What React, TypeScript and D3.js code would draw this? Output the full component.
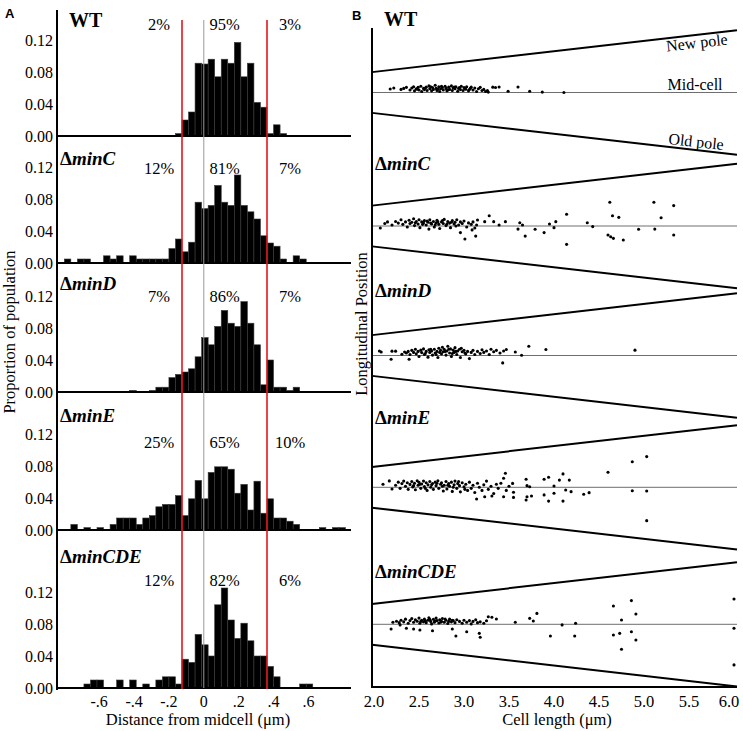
import React from 'react';
import * as d3 from 'd3';

// ---------- DATA ----------
const strainNames = ['WT', 'minC', 'minD', 'minE', 'minCDE'];
const pctLeft = ['2%', '12%', '7%', '25%', '12%'];
const pctMid = ['95%', '81%', '86%', '65%', '82%'];
const pctRight = ['3%', '7%', '7%', '10%', '6%'];

const binWidth = 0.0375;
const leftCut = -0.125;
const rightCut = 0.3625;
const histStart = [-1, -18, -8, -17, -15];
const histWT = [0.003, 0.02, 0.03, 0.091, 0.09, 0.096, 0.074, 0.096, 0.091, 0.117, 0.074, 0.091, 0.042, 0.036, 0.003, 0.014, 0.003];
const histMinC = [0.005, 0, 0.005, 0.005, 0, 0, 0.009, 0.005, 0.009, 0, 0.009, 0.005, 0.005, 0.005, 0.005, 0.005, 0.018, 0.03, 0.014, 0.026, 0.076, 0.068, 0.072, 0.097, 0.076, 0.072, 0.11, 0.072, 0.064, 0.055, 0.034, 0.025, 0.021, 0.005, 0, 0.009, 0.005];
const histMinD = [0.002, 0, 0, 0.002, 0.006, 0.006, 0.018, 0.022, 0.025, 0.029, 0.044, 0.068, 0.059, 0.082, 0.102, 0.086, 0.082, 0.113, 0.086, 0.059, 0.009, 0.04, 0.006, 0.006, 0.002, 0.006];
const histMinE = [0.007, 0, 0.003, 0, 0.003, 0, 0.007, 0.015, 0.015, 0.015, 0.007, 0.015, 0.018, 0.029, 0.032, 0.032, 0.043, 0.018, 0.039, 0.062, 0.039, 0.072, 0.079, 0.079, 0.076, 0.046, 0.057, 0.025, 0.061, 0.021, 0.039, 0.015, 0.015, 0.011, 0.007, 0, 0, 0, 0.003, 0, 0.003, 0.003];
const histMinCDE = [0.005, 0.01, 0.01, 0, 0, 0.01, 0, 0.01, 0, 0.005, 0, 0.01, 0.014, 0.014, 0.005, 0.036, 0.032, 0.067, 0.054, 0.04, 0.104, 0.125, 0.085, 0.062, 0.081, 0.059, 0.04, 0.04, 0.027, 0.014, 0, 0, 0, 0.005, 0.005];
const histograms = [histWT, histMinC, histMinD, histMinE, histMinCDE];

const yTicksA = [0, 0.04, 0.08, 0.12];
const xTicksA = [-0.6, -0.4, -0.2, 0, 0.2, 0.4, 0.6];
const xTickLabelsA = ['-.6', '-.4', '-.2', '0', '.2', '.4', '.6'];
const xTicksB = [2.0, 2.5, 3.0, 3.5, 4.0, 4.5, 5.0, 5.5, 6.0];

// [cell length (µm), longitudinal position from mid-cell (µm)]
const dotsWT: [number, number][] = [
  [2.18, 0.17], [2.22, 0.22], [2.30, 0.15], [2.33, 0.2], [2.36, 0.25],
  [2.40, 0.12], [2.42, 0.22], [2.44, 0.28], [2.45, 0.08], [2.47, 0.18], [2.49, 0.25], [2.50, 0.12], [2.52, 0.3], [2.53, 0.05], [2.55, 0.2],
  [2.56, 0.14], [2.58, 0.26], [2.59, 0.1], [2.61, 0.32], [2.62, 0.18], [2.64, 0.08], [2.65, 0.24], [2.66, 0.15], [2.68, 0.35], [2.69, 0.2],
  [2.70, 0.1], [2.72, 0.28], [2.73, 0.05], [2.74, 0.18], [2.76, 0.24], [2.77, 0.12], [2.79, 0.3], [2.80, 0.2], [2.81, 0.08], [2.83, 0.26],
  [2.84, 0.15], [2.86, 0.32], [2.87, 0.1], [2.88, 0.22], [2.90, 0.18], [2.91, 0.28], [2.93, 0.06], [2.94, 0.2], [2.96, 0.14], [2.97, 0.3],
  [2.99, 0.1], [3.00, 0.24], [3.02, 0.16], [3.03, 0.28], [3.05, 0.08], [3.07, 0.2], [3.08, 0.26], [3.10, 0.12], [3.12, 0.22], [3.14, 0.05],
  [3.16, 0.18], [3.18, 0.25], [3.20, 0.1], [3.22, 0.15], [3.24, 0.05], [3.26, 0.1], [3.27, 0.02],
  [2.48, 0.16], [2.57, 0.22], [2.63, 0.28], [2.71, 0.16], [2.75, 0.3], [2.82, 0.12], [2.89, 0.26], [2.95, 0.24], [3.01, 0.2], [3.06, 0.14],
  [3.32, 0.26], [3.35, 0.24], [3.39, 0.27], [3.49, 0.06], [3.6, 0.27], [3.73, 0.06], [3.87, 0.02], [4.11, 0.0],
];
const dotsMinC: [number, number][] = [
  [2.07, -0.1], [2.12, 0.12], [2.15, 0.2], [2.2, 0.05], [2.24, 0.22], [2.27, 0.14], [2.3, 0.3], [2.32, 0.08], [2.35, 0.2], [2.37, -0.05],
  [2.39, 0.28], [2.4, 0.12], [2.42, 0.18], [2.44, 0.35], [2.45, 0.02], [2.47, 0.22], [2.49, 0.1], [2.5, 0.3], [2.51, -0.08], [2.53, 0.2],
  [2.55, 0.14], [2.56, 0.26], [2.58, 0.05], [2.6, 0.18], [2.61, -0.15], [2.62, 0.3], [2.64, 0.1], [2.66, 0.22], [2.67, -0.05], [2.69, 0.16],
  [2.7, 0.28], [2.72, 0.08], [2.73, -0.12], [2.75, 0.2], [2.77, 0.12], [2.78, 0.32], [2.8, 0.02], [2.82, 0.22], [2.84, 0.14], [2.85, -0.08],
  [2.87, 0.26], [2.89, 0.1], [2.9, 0.18], [2.92, 0.3], [2.94, 0.05], [2.96, 0.2], [2.98, 0.12], [3.0, 0.24], [3.03, -0.05], [3.05, 0.15],
  [3.08, 0.08], [3.1, 0.2], [3.12, -0.1], [3.14, 0.05],
  [2.46, 0.16], [2.54, 0.08], [2.59, 0.24], [2.63, 0.14], [2.68, 0.06], [2.71, 0.2], [2.76, 0.26], [2.81, 0.1], [2.86, 0.18], [2.91, 0.0],
  [2.96, -0.32], [3.01, -0.63], [3.09, -0.19], [3.13, -0.49], [3.15, 0.29], [3.23, 0.21], [3.28, 0.5], [3.33, 0.21], [3.39, 0.05], [3.46, 0.21],
  [3.62, 0.16], [3.65, 0.05], [3.6, -0.15], [3.68, -0.49], [3.79, -0.16], [3.89, -0.32], [3.95, 0.1], [4.0, -0.08], [4.02, 0.21], [4.14, 0.57],
  [4.14, -0.89], [4.37, 0.16], [4.43, -0.03], [4.62, 1.15], [4.65, 0.5], [4.72, 0.42], [4.6, -0.44], [4.63, -0.52], [4.66, -0.6], [4.77, -0.68],
  [4.94, -0.16], [5.11, 1.15], [5.12, -0.15], [5.19, 0.4], [5.33, 0.99], [5.33, -0.44],
];
const dotsMinD: [number, number][] = [
  [2.06, 0.22], [2.08, 0.17], [2.2, 0.21], [2.19, -0.18], [2.24, 0.21], [2.31, 0.06], [2.34, 0.17], [2.39, -0.18],
  [2.36, 0.12], [2.38, 0.2], [2.4, 0.05], [2.42, 0.25], [2.44, 0.15], [2.46, 0.3], [2.47, 0.08], [2.49, 0.2], [2.5, -0.05], [2.52, 0.26],
  [2.53, 0.14], [2.55, 0.32], [2.56, 0.05], [2.58, 0.2], [2.6, -0.08], [2.61, 0.28], [2.62, 0.15], [2.64, 0.22], [2.65, 0.02], [2.67, 0.3],
  [2.68, 0.12], [2.7, 0.2], [2.71, -0.1], [2.72, 0.35], [2.74, 0.25], [2.75, 0.08], [2.76, 0.4], [2.77, 0.18], [2.78, 0.3], [2.8, 0.02],
  [2.81, 0.22], [2.82, 0.45], [2.84, 0.12], [2.85, 0.32], [2.86, -0.05], [2.88, 0.26], [2.89, 0.15], [2.9, 0.38], [2.92, 0.05], [2.93, 0.22],
  [2.95, 0.3], [2.96, -0.1], [2.98, 0.18], [3.0, 0.25], [3.02, 0.08], [3.04, 0.2], [3.06, -0.15], [3.08, 0.15], [3.1, 0.25], [3.12, 0.05],
  [3.15, 0.2], [3.18, 0.1], [3.2, 0.28], [3.22, 0.15], [3.25, 0.22], [3.28, 0.05], [3.3, 0.3], [3.33, 0.18], [3.36, 0.25], [3.4, 0.12],
  [2.57, 0.1], [2.63, 0.3], [2.69, 0.05], [2.73, 0.15], [2.79, 0.2], [2.83, 0.3], [2.87, 0.1], [2.91, 0.2], [2.97, 0.35], [3.01, 0.12],
  [3.43, -0.36], [3.44, 0.22], [3.47, 0.29], [3.57, 0.17], [3.64, 0.01], [3.72, 0.45], [3.91, 0.29], [4.9, 0.26],
];
const dotsMinE: [number, number][] = [
  [2.1, 0.15], [2.17, 0.31], [2.2, -0.08],
  [2.24, 0.1], [2.27, 0.25], [2.29, -0.05], [2.31, 0.18], [2.33, 0.3], [2.35, 0.05], [2.37, 0.22], [2.38, -0.1], [2.4, 0.14], [2.42, 0.28],
  [2.43, 0.02], [2.45, 0.2], [2.46, -0.12], [2.48, 0.32], [2.49, 0.1], [2.5, 0.24], [2.52, -0.05], [2.53, 0.16], [2.55, 0.3], [2.56, 0.04],
  [2.58, 0.22], [2.59, -0.15], [2.6, 0.12], [2.62, 0.28], [2.63, 0.0], [2.65, 0.18], [2.66, -0.1], [2.68, 0.25], [2.69, 0.08], [2.71, 0.32],
  [2.72, -0.05], [2.74, 0.15], [2.75, 0.22], [2.77, -0.18], [2.78, 0.1], [2.8, 0.28], [2.81, -0.08], [2.83, 0.18], [2.84, 0.05], [2.86, 0.25],
  [2.87, -0.2], [2.89, 0.12], [2.9, 0.3], [2.92, -0.05], [2.93, 0.18], [2.95, 0.08], [2.96, -0.22], [2.98, 0.22], [3.0, 0.02], [3.02, 0.15],
  [3.04, -0.15], [3.06, 0.25], [3.08, -0.05], [3.1, 0.1], [3.12, -0.25], [3.15, 0.2], [3.17, 0.0], [3.2, -0.15], [3.22, 0.12], [3.25, 0.3],
  [3.27, -0.1], [3.3, 0.05], [3.33, -0.3], [3.36, 0.15], [3.38, -0.05], [3.41, 0.2], [3.47, -0.15], [3.5, 0.05],
  [2.44, 0.08], [2.51, 0.15], [2.57, -0.05], [2.64, 0.12], [2.7, 0.2], [2.76, 0.05], [2.82, 0.1], [2.88, 0.0], [2.94, 0.28], [3.01, -0.1],
  [3.14, -0.57], [3.23, -0.46], [3.31, -0.42], [3.44, -0.46], [3.46, 0.68], [3.44, 0.44], [3.54, 0.19], [3.55, -0.24], [3.55, -0.49],
  [3.69, 0.39], [3.7, 0.08], [3.73, 0.03], [3.69, -0.62], [3.7, -0.46], [3.75, -0.42], [3.89, 0.39], [3.94, 0.49], [3.89, -0.37], [3.94, -0.67],
  [4.0, 0.06], [4.0, -0.29], [4.06, 0.35], [4.1, 0.65], [4.17, 0.35], [4.13, -0.13], [4.19, -0.21], [4.1, -0.67], [4.33, -0.34], [4.39, -0.26],
  [4.6, 0.73], [4.87, 1.24], [5.03, 1.49], [4.87, -0.17], [5.03, -0.18], [5.03, -1.62],
];
const dotsMinCDE: [number, number][] = [
  [2.19, -0.23], [2.21, 0.1], [2.29, -0.03], [2.36, -0.19], [2.44, -0.23], [2.51, -0.28], [2.65, -0.31], [2.87, -0.23], [2.91, -0.57],
  [3.03, -0.36], [3.17, -0.44], [3.18, -0.63], [3.25, 0.17], [3.31, 0.34], [3.36, 0.26], [3.27, 0.37],
  [2.25, 0.15], [2.28, 0.08], [2.3, 0.2], [2.33, 0.12], [2.35, 0.25], [2.38, 0.05], [2.4, 0.18], [2.42, 0.28], [2.44, 0.1], [2.46, 0.22],
  [2.48, 0.15], [2.5, 0.3], [2.51, 0.05], [2.53, 0.2], [2.55, 0.12], [2.56, 0.26], [2.58, 0.08], [2.6, 0.2], [2.61, 0.32], [2.63, 0.14],
  [2.64, 0.02], [2.66, 0.24], [2.67, 0.1], [2.69, 0.3], [2.7, 0.18], [2.72, 0.06], [2.73, 0.22], [2.75, 0.14], [2.76, 0.28], [2.78, 0.1],
  [2.8, 0.2], [2.82, 0.04], [2.84, 0.25], [2.86, 0.12], [2.88, 0.18], [2.9, 0.08], [2.92, 0.22], [2.95, 0.14], [2.98, 0.05], [3.0, 0.2],
  [3.03, 0.1], [3.06, 0.18], [3.08, 0.02], [3.1, 0.14], [3.13, 0.22], [3.15, 0.08], [3.18, 0.12], [3.22, 0.05],
  [2.52, 0.14], [2.57, 0.18], [2.62, 0.24], [2.68, 0.16], [2.74, 0.1], [2.79, 0.26], [2.83, 0.14], [2.87, 0.2],
  [3.57, 0.1], [3.73, 0.29], [3.77, 0.16], [3.81, 0.53], [3.96, -0.57], [4.09, -0.03], [4.24, 0.05], [4.23, -0.57],
  [4.66, 0.89], [4.86, 1.15], [4.75, 0.21], [4.91, 0.5], [4.66, -0.52], [4.73, -0.44], [4.86, -0.36], [4.91, -0.76], [4.75, -1.21],
  [6.0, 1.23], [6.0, -0.19], [6.0, -1.97],
];
const dotSets = [dotsWT, dotsMinC, dotsMinD, dotsMinE, dotsMinCDE];

// ---------- LAYOUT ----------
const W = 743;
const H = 731;
const serif = "'Liberation Serif', 'Times New Roman', serif";
const sans = "'Liberation Sans', Arial, sans-serif";

const aAxisX = 57;
const aRight = 351;
const aBase = [136, 263, 392, 530, 688];
const aNameY = [27, 165, 290, 422, 563];
const aPctY = [30, 174, 302, 448, 586];

const bAxisX = 372;
const bRight = 737;
const bBottom = 687;
const bMid = [92.5, 226, 355.5, 487.3, 624.3];
const bNameY = [26, 170, 297, 424, 578];
const posPxPerUm = 20.6;

function StrainName({ x, y, idx }: { x: number; y: number; idx: number }) {
  const n = strainNames[idx];
  if (n === 'WT') {
    return (
      <text x={x + 9} y={y} fontFamily={serif} fontWeight="bold" fontSize={20}>WT</text>
    );
  }
  return (
    <text x={x} y={y} fontFamily={serif} fontWeight="bold" fontSize={19}>
      <tspan>Δ</tspan>
      <tspan fontStyle="italic">{n}</tspan>
    </text>
  );
}

export default function App() {
  const xA = d3.scaleLinear().domain([leftCut, rightCut]).range([182, 267]);
  const xB = d3.scaleLinear().domain([2, 6]).range([374, 734]);

  return (
    <div style={{ position: 'absolute', left: 0, top: 0 }}>
      <svg width={W} height={H} viewBox={`0 0 ${W} ${H}`} style={{ display: 'block', background: '#fff' }}>
        <rect x={0} y={0} width={W} height={H} fill="#fff" />
        {/* ---------- Panel A ---------- */}
        <text x={5} y={18} fontFamily={sans} fontWeight="bold" fontSize={13}>A</text>
        {histograms.map((vals, i) => {
          const base = aBase[i];
          const yS = d3.scaleLinear().domain([0, 0.12]).range([base, base - 96]);
          return (
            <g key={'h' + i}>
              {vals.map((v, j) => {
                if (v <= 0) return null;
                const b = histStart[i] + j;
                const x0 = xA(leftCut + b * binWidth);
                const x1 = xA(leftCut + (b + 1) * binWidth);
                return (
                  <rect key={j} x={x0} y={yS(v)} width={x1 - x0} height={base - yS(v)}
                    fill="#000" stroke="#3a3a3a" strokeWidth={0.6} />
                );
              })}
              <line x1={aAxisX} x2={aRight} y1={base} y2={base} stroke="#000" strokeWidth={2} />
              {yTicksA.map((t) => (
                <text key={t} x={53} y={yS(t)} dy="0.36em" textAnchor="end" fontFamily={serif} fontSize={16}>
                  {t.toFixed(2)}
                </text>
              ))}
              <StrainName x={60} y={aNameY[i]} idx={i} />
              <text x={xA(leftCut) - 23} y={aPctY[i]} textAnchor="middle" fontFamily={serif} fontSize={16.5}>{pctLeft[i]}</text>
              <text x={xA(0.12)} y={aPctY[i]} textAnchor="middle" fontFamily={serif} fontSize={16.5}>{pctMid[i]}</text>
              <text x={xA(rightCut) + 23} y={aPctY[i]} textAnchor="middle" fontFamily={serif} fontSize={16.5}>{pctRight[i]}</text>
            </g>
          );
        })}
        <line x1={xA(0)} x2={xA(0)} y1={20} y2={688} stroke="#9a9a9a" strokeWidth={1} />
        <line x1={xA(leftCut)} x2={xA(leftCut)} y1={20} y2={689} stroke="#e8141c" strokeWidth={1.6} />
        <line x1={xA(rightCut)} x2={xA(rightCut)} y1={20} y2={689} stroke="#e8141c" strokeWidth={1.6} />
        <line x1={aAxisX} x2={aAxisX} y1={10} y2={690} stroke="#000" strokeWidth={2} />
        {xTicksA.map((t, i) => (
          <text key={t} x={xA(t)} y={707} textAnchor="middle" fontFamily={serif} fontSize={16}>{xTickLabelsA[i]}</text>
        ))}
        <text x={198} y={725} textAnchor="middle" fontFamily={serif} fontSize={16.5}>Distance from midcell (μm)</text>
        <text transform="translate(15,332) rotate(-90)" textAnchor="middle" fontFamily={serif} fontSize={16.5}>Proportion of population</text>

        {/* ---------- Panel B ---------- */}
        <text x={352} y={20} fontFamily={sans} fontWeight="bold" fontSize={13}>B</text>
        {dotSets.map((dots, i) => {
          const mid = bMid[i];
          const yP = d3.scaleLinear().domain([-1, 1]).range([mid + posPxPerUm, mid - posPxPerUm]);
          const Ls = [xB.invert(bAxisX), xB.invert(bRight)];
          const newPole = d3.line<number>().x((L) => xB(L)).y((L) => yP(L / 2));
          const oldPole = d3.line<number>().x((L) => xB(L)).y((L) => yP(-L / 2));
          return (
            <g key={'b' + i}>
              <line x1={bAxisX} x2={bRight} y1={mid} y2={mid} stroke="#6e6e6e" strokeWidth={1} />
              <path d={newPole(Ls) || ''} stroke="#000" strokeWidth={2} fill="none" />
              <path d={oldPole(Ls) || ''} stroke="#000" strokeWidth={2} fill="none" />
              {dots.map((d, j) => (
                <circle key={j} cx={xB(d[0])} cy={yP(d[1])} r={1.55} fill="#000" />
              ))}
              <StrainName x={375} y={bNameY[i]} idx={i} />
            </g>
          );
        })}
        <text x={697} y={48} textAnchor="middle" fontFamily={serif} fontSize={16}
          transform={`rotate(-6.4, 697, 44)`}>New pole</text>
        <text x={695} y={90} textAnchor="middle" fontFamily={serif} fontSize={16}>Mid-cell</text>
        <text x={696} y={147} textAnchor="middle" fontFamily={serif} fontSize={16}
          transform={`rotate(6.4, 696, 143)`}>Old pole</text>
        <line x1={bAxisX} x2={bAxisX} y1={28} y2={bBottom + 1} stroke="#000" strokeWidth={2} />
        <line x1={bAxisX} x2={bRight} y1={bBottom} y2={bBottom} stroke="#000" strokeWidth={2} />
        {xTicksB.map((t) => (
          <text key={t} x={Math.min(xB(t), 729)} y={707} textAnchor="middle" fontFamily={serif} fontSize={16.5}>{t.toFixed(1)}</text>
        ))}
        <text x={557} y={725} textAnchor="middle" fontFamily={serif} fontSize={16.5}>Cell length (μm)</text>
        <text transform="translate(367,324) rotate(-90)" textAnchor="middle" fontFamily={serif} fontSize={16.5}>Longitudinal Position</text>
      </svg>
    </div>
  );
}
